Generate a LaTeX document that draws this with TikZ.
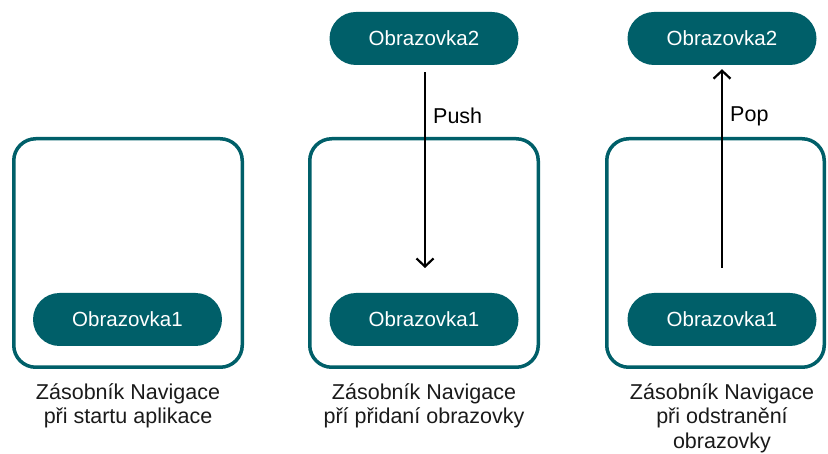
\documentclass[tikz,border=0pt]{standalone}
\usepackage{fontspec}
\setmainfont{Liberation Sans}
\usetikzlibrary{arrows.meta,calc}
\definecolor{tealc}{HTML}{005F69}
\definecolor{inkc}{HTML}{1A1A1A}
\begin{document}
\begin{tikzpicture}[x=1pt,y=-1pt,
  stackbox/.style={draw=tealc, line width=3.5pt, rounded corners=22pt, minimum width=228.5pt, minimum height=228.5pt, inner sep=0pt, outer sep=0pt},
  stackboxn/.style={stackbox, minimum width=217.5pt},
  pill/.style={fill=tealc, rounded corners=26.5pt, minimum width=189pt, minimum height=53pt, inner sep=0pt, text=white, font=\fontsize{20.5}{22}\selectfont},
  arr/.style={draw=black, line width=2.2pt, -{Straight Barb[length=8pt,width=17pt,line width=2.2pt]}},
  lbl/.style={anchor=west, text=black, font=\fontsize{21.5}{22}\selectfont, inner sep=0pt},
  captext/.style={anchor=north, align=center, text=inkc, inner sep=0pt, font=\fontsize{21.5}{24.5}\selectfont}
]
\useasboundingbox (0,0) rectangle (828,454);
% boxes
\node[stackbox] (b1) at (128,253) {};
\node[stackbox] (b2) at (424,253) {};
\node[stackboxn] (b3) at (715.5,253) {};
% bottom pills
\node[pill] (p1) at (127.5,319.5) {Obrazovka1};
\node[pill] (p2) at (424,319.5) {Obrazovka1};
\node[pill] (p3) at (722,319.5) {Obrazovka1};
% top pills
\node[pill] (t2) at (424,38.5) {Obrazovka2};
\node[pill] (t3) at (722,38.5) {Obrazovka2};
% arrows
\coordinate (pushend) at (425,268);
\coordinate (popstart) at (722,268);
\draw[arr] ($(t2.south)+(1,7)$) -- (pushend);
\draw[arr] (popstart) -- ($(t3.south)+(0,4)$);
\node[lbl] (lpush) at (433,116) {Push};
\node[lbl] (lpop) at (730,116) {Pop};
% captions
\node[captext] (c1) at (128,383) {Zásobník Navigace\\při startu aplikace};
\node[captext] (c2) at (424,383) {Zásobník Navigace\\pří přidaní obrazovky};
\node[captext] (c3) at (722,383) {Zásobník Navigace\\při odstranění\\obrazovky};
\end{tikzpicture}
\end{document}
